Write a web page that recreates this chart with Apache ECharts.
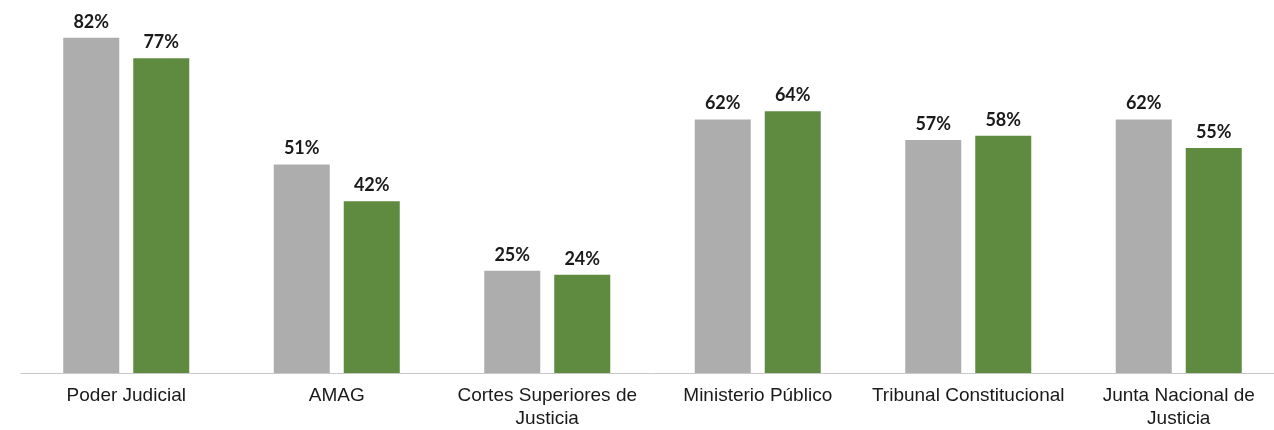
<!DOCTYPE html>
<html><head><meta charset="utf-8">
<script src="https://cdn.jsdelivr.net/npm/echarts@6/dist/echarts.min.js"></script>
<style>html,body{margin:0;padding:0;background:#fff;overflow:hidden}#c{width:1284px;height:430px}</style>
</head><body><div id="c"></div>
<script>
const categories = ['Poder Judicial','AMAG','Cortes Superiores de\nJusticia','Ministerio Público','Tribunal Constitucional','Junta Nacional de\nJusticia'];
const seriesA = [82,51,25,62,57,62];
const seriesB = [77,42,24,64,58,55];
const chart = echarts.init(document.getElementById('c'));
const lbl = {show:true,position:'top',distance:7,formatter:'{c}%',fontFamily:'Lato, "Open Sans", sans-serif',fontWeight:'bold',fontSize:18,color:'#1a1a1a'};
chart.setOption({
  animation:false,
  grid:{left:21,right:0,top:5,bottom:56,containLabel:false},
  xAxis:{type:'category',data:categories,axisLine:{lineStyle:{color:'#c8c8c8',width:1}},axisTick:{show:false},
    axisLabel:{interval:0,fontFamily:'"Liberation Sans", Arial, sans-serif',fontSize:19,color:'#1a1a1a',lineHeight:23,margin:11}},
  yAxis:{type:'value',min:0,max:90,show:false,splitLine:{show:false}},
  series:[
    {type:'bar',data:seriesA,barWidth:56,barGap:'25%',itemStyle:{color:'#adadad'},label:lbl},
    {type:'bar',data:seriesB,barWidth:56,itemStyle:{color:'#5e8b3f'},label:lbl}
  ]
});
</script></body></html>
